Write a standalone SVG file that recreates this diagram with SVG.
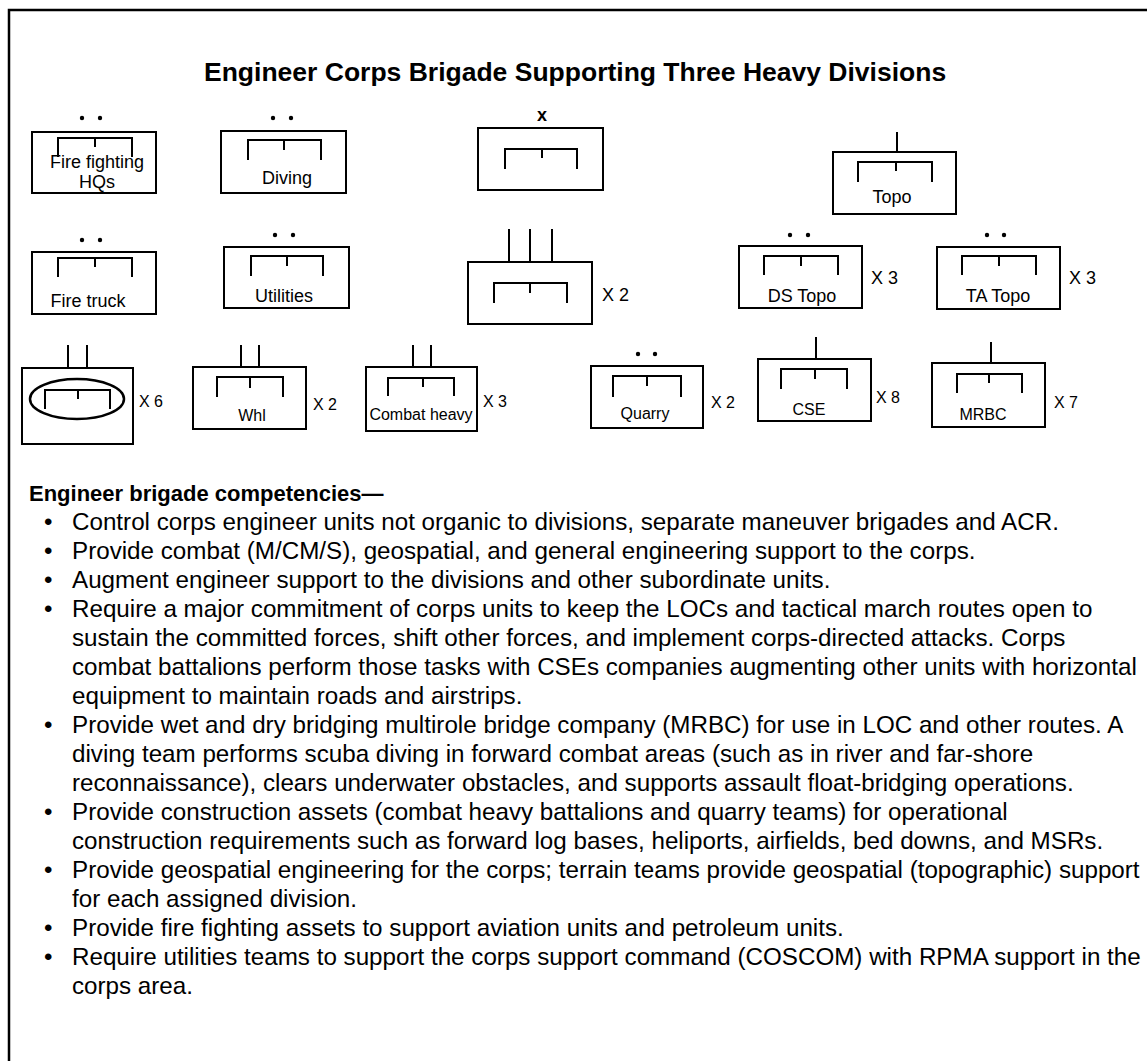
<svg xmlns="http://www.w3.org/2000/svg" width="1147" height="1061" viewBox="0 0 1147 1061">
<style>
.bx{fill:none;stroke:#000;stroke-width:2}
.br{fill:none;stroke:#000;stroke-width:2}
.dot{fill:#000}
text{font-family:"Liberation Sans",Arial,sans-serif;fill:#000}
.lbl{font-size:18px;text-anchor:middle}
.lbl16{font-size:16px;text-anchor:middle}
.mult{font-size:18px}
.mult16{font-size:16px}
.title{font-size:26.5px;font-weight:bold}
.head{font-size:22px;font-weight:bold}
.body{font-size:24.2px}
</style>
<rect x="0" y="0" width="1147" height="1061" fill="#fff"/>
<path d="M9,1061 V10 H1147" fill="none" stroke="#000" stroke-width="2.5"/>
<text class="title" x="204" y="81">Engineer Corps Brigade Supporting Three Heavy Divisions</text>

<g id="connectors"></g>

<g id="n_ffhq">
<circle class="dot" cx="82" cy="118" r="2.2"/><circle class="dot" cx="100" cy="118" r="2.2"/>
<rect class="bx" x="32" y="132" width="124" height="61"/>
<path class="br" d="M58,157 V138 H132 V157 M95,138 V147"/>
<text class="lbl" x="97" y="168">Fire fighting</text>
<text class="lbl" x="97" y="188">HQs</text>
</g>

<g id="n_diving">
<circle class="dot" cx="273" cy="118" r="2.2"/><circle class="dot" cx="291" cy="118" r="2.2"/>
<rect class="bx" x="221" y="131" width="125" height="62"/>
<path class="br" d="M248,160 V140 H321 V160 M284,140 V150"/>
<text class="lbl" x="287" y="184">Diving</text>
</g>

<g id="n_brigade">
<text x="542" y="121" font-size="18" font-weight="bold" text-anchor="middle">x</text>
<rect class="bx" x="478" y="128" width="125" height="62"/>
<path class="br" d="M505,169 V149 H577 V169 M542,149 V158"/>
</g>

<g id="n_topo">
<path class="br" d="M897,132 V152"/>
<rect class="bx" x="833" y="152" width="123" height="62"/>
<path class="br" d="M858,182 V162 H932 V182 M896,162 V171"/>
<text class="lbl" x="892" y="203">Topo</text>
</g>

<g id="n_firetruck">
<circle class="dot" cx="82" cy="240" r="2.2"/><circle class="dot" cx="100" cy="240" r="2.2"/>
<rect class="bx" x="32" y="252" width="124" height="62"/>
<path class="br" d="M58,277 V258 H132 V277 M95,258 V267"/>
<text class="lbl" x="88" y="307">Fire truck</text>
</g>

<g id="n_utilities">
<circle class="dot" cx="275" cy="235" r="2.2"/><circle class="dot" cx="293" cy="235" r="2.2"/>
<rect class="bx" x="224" y="247" width="125" height="61"/>
<path class="br" d="M251,276 V256 H323 V276 M287,256 V266"/>
<text class="lbl" x="284" y="302">Utilities</text>
</g>

<g id="n_group">
<path class="br" d="M509,229 V262 M530,229 V262 M552,229 V262"/>
<rect class="bx" x="468" y="262" width="124" height="62"/>
<path class="br" d="M494,303 V283 H567 V303 M530,283 V293"/>
<text class="mult" x="602" y="301">X 2</text>
</g>

<g id="n_dstopo">
<circle class="dot" cx="790" cy="235" r="2.2"/><circle class="dot" cx="808" cy="235" r="2.2"/>
<rect class="bx" x="739" y="246" width="123" height="62"/>
<path class="br" d="M764,275 V256 H838 V275 M801,256 V266"/>
<text class="lbl" x="802" y="302">DS Topo</text>
<text class="mult" x="871" y="284">X 3</text>
</g>

<g id="n_tatopo">
<circle class="dot" cx="987" cy="235" r="2.2"/><circle class="dot" cx="1004" cy="235" r="2.2"/>
<rect class="bx" x="937" y="247" width="123" height="62"/>
<path class="br" d="M962,275 V256 H1036 V275 M999,256 V266"/>
<text class="lbl" x="998" y="302">TA Topo</text>
<text class="mult" x="1069" y="284">X 3</text>
</g>

<g id="n_engbn">
<path class="br" d="M68,345 V368 M87,345 V368"/>
<rect class="bx" x="22" y="368" width="111" height="76"/>
<ellipse cx="77" cy="399" rx="47" ry="20" fill="none" stroke="#000" stroke-width="2.5"/>
<path class="br" d="M45,409 V390 H110 V409 M78,390 V399"/>
<text class="mult16" x="139" y="407">X 6</text>
</g>

<g id="n_whl">
<path class="br" d="M241,345 V367 M259,345 V367"/>
<rect class="bx" x="193" y="367" width="113" height="62"/>
<path class="br" d="M217,397 V377 H283 V397 M250,377 V388"/>
<text class="lbl16" x="252" y="421">Whl</text>
<text class="mult16" x="313" y="410">X 2</text>
</g>

<g id="n_combatheavy">
<path class="br" d="M413,345 V367 M431,345 V367"/>
<rect class="bx" x="366" y="367" width="111" height="64"/>
<path class="br" d="M388,396 V378 H454 V396 M423,378 V387"/>
<text class="lbl16" x="421" y="420">Combat heavy</text>
<text class="mult16" x="483" y="407">X 3</text>
</g>

<g id="n_quarry">
<circle class="dot" cx="638" cy="354" r="2.2"/><circle class="dot" cx="655" cy="354" r="2.2"/>
<rect class="bx" x="591" y="366" width="112" height="62"/>
<path class="br" d="M613,397 V376 H681 V397 M647,376 V386"/>
<text class="lbl16" x="645" y="419">Quarry</text>
<text class="mult16" x="711" y="408">X 2</text>
</g>

<g id="n_cse">
<path class="br" d="M816,337 V359"/>
<rect class="bx" x="758" y="359" width="113" height="62"/>
<path class="br" d="M781,389 V369 H847 V389 M815,369 V379"/>
<text class="lbl16" x="809" y="415">CSE</text>
<text class="mult16" x="876" y="403">X 8</text>
</g>

<g id="n_mrbc">
<path class="br" d="M991,342 V363"/>
<rect class="bx" x="932" y="363" width="113" height="64"/>
<path class="br" d="M957,393 V374 H1022 V393 M989,374 V383"/>
<text class="lbl16" x="983" y="420">MRBC</text>
<text class="mult16" x="1054" y="408">X 7</text>
</g>

<g id="competencies">
<text class="head" x="29" y="501">Engineer brigade competencies—</text>
<text class="body">
<tspan x="44" y="530">•</tspan>
<tspan x="44" y="559">•</tspan>
<tspan x="44" y="588">•</tspan>
<tspan x="44" y="617">•</tspan>
<tspan x="44" y="733">•</tspan>
<tspan x="44" y="820">•</tspan>
<tspan x="44" y="878">•</tspan>
<tspan x="44" y="936">•</tspan>
<tspan x="44" y="965">•</tspan>
</text>
<text class="body">
<tspan x="72" y="530">Control corps engineer units not organic to divisions, separate maneuver brigades and ACR.</tspan>
<tspan x="72" y="559">Provide combat (M/CM/S), geospatial, and general engineering support to the corps.</tspan>
<tspan x="72" y="588">Augment engineer support to the divisions and other subordinate units.</tspan>
<tspan x="72" y="617">Require a major commitment of corps units to keep the LOCs and tactical march routes open to</tspan>
<tspan x="72" y="646">sustain the committed forces, shift other forces, and implement corps-directed attacks. Corps</tspan>
<tspan x="72" y="675">combat battalions perform those tasks with CSEs companies augmenting other units with horizontal</tspan>
<tspan x="72" y="704">equipment to maintain roads and airstrips.</tspan>
<tspan x="72" y="733">Provide wet and dry bridging multirole bridge company (MRBC) for use in LOC and other routes. A</tspan>
<tspan x="72" y="762">diving team performs scuba diving in forward combat areas (such as in river and far-shore</tspan>
<tspan x="72" y="791">reconnaissance), clears underwater obstacles, and supports assault float-bridging operations.</tspan>
<tspan x="72" y="820">Provide construction assets (combat heavy battalions and quarry teams) for operational</tspan>
<tspan x="72" y="849">construction requirements such as forward log bases, heliports, airfields, bed downs, and MSRs.</tspan>
<tspan x="72" y="878">Provide geospatial engineering for the corps; terrain teams provide geospatial (topographic) support</tspan>
<tspan x="72" y="907">for each assigned division.</tspan>
<tspan x="72" y="936">Provide fire fighting assets to support aviation units and petroleum units.</tspan>
<tspan x="72" y="965">Require utilities teams to support the corps support command (COSCOM) with RPMA support in the</tspan>
<tspan x="72" y="994">corps area.</tspan>
</text>
</g>
</svg>
